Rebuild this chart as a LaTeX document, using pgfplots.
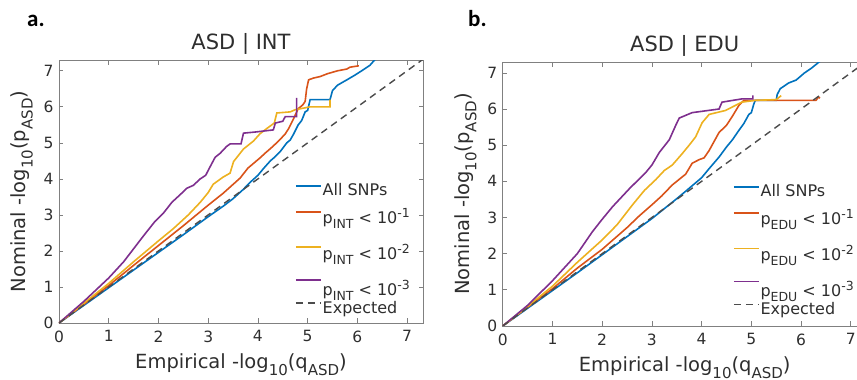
\documentclass[border=0pt]{standalone}
\usepackage{pgfplots}
\pgfplotsset{compat=1.18}
\usepackage{fontspec}
\setmainfont{DejaVu Sans}
\newfontfamily\lblfont{Carlito}
\definecolor{mblue}{rgb}{0,0.447,0.741}
\definecolor{morange}{rgb}{0.85,0.325,0.098}
\definecolor{myellow}{rgb}{0.929,0.694,0.125}
\definecolor{mpurple}{rgb}{0.494,0.184,0.556}
\definecolor{txt}{rgb}{0.18,0.18,0.18}
\definecolor{axgray}{rgb}{0.5,0.5,0.5}
\definecolor{expgray}{rgb}{0.3,0.3,0.3}
\newcommand{\lsub}[1]{\raisebox{-7pt}{\fontsize{15}{16}\selectfont #1}}
\newcommand{\gsub}[1]{\raisebox{-5.5pt}{\fontsize{12.5}{13}\selectfont #1}}
\newcommand{\gsup}[1]{\raisebox{6pt}{\fontsize{12.5}{13}\selectfont #1}}
\pgfplotsset{
  qq/.style={
    scale only axis, width=364pt,
    xmin=0, xmax=7.32, ymin=0, ymax=7.3,
    xtick={0,...,7}, ytick={0,...,7},
    axis line style={draw=axgray, line width=0.7pt},
    every tick/.style={draw=axgray, line width=0.7pt},
    major tick length=4.5pt,
    tick align=inside,
    /pgf/number format/assume math mode=true,
    tick label style={font=\fontsize{15.5}{17}\selectfont, text=txt},
    xticklabel style={yshift=-4pt},
    yticklabel style={xshift=-2pt},
    every axis x label/.style={at={(axis description cs:0.5,0)}, anchor=north, yshift=-30pt, inner sep=0pt, font=\fontsize{19.5}{21}\selectfont, text=txt},
    every axis y label/.style={at={(axis description cs:-0.102,0.5)}, rotate=90, anchor=center, font=\fontsize{19.5}{21}\selectfont, text=txt},
    title style={at={(axis description cs:0.5,1)}, anchor=base, yshift=4.5pt, font=\fontsize{21}{23}\selectfont, text=txt},
    xlabel={Empirical -log\lsub{10}(q\lsub{ASD})},
    ylabel={Nominal -log\lsub{10}(p\lsub{ASD})},
    legend cell align=left,
    legend style={draw=none, fill=none, inner sep=0pt, font=\fontsize{16}{18}\selectfont, text=txt,
      nodes={inner sep=0pt}, row sep=0pt,
      /tikz/every odd column/.style={column sep=1pt},
      /tikz/row 1/.style={nodes={text height=12pt, text depth=5pt}},
      /tikz/row 2/.style={nodes={text height=23pt, text depth=12pt}},
      /tikz/row 3/.style={nodes={text height=24pt, text depth=12pt}},
      /tikz/row 4/.style={nodes={text height=24pt, text depth=6pt}},
      /tikz/row 5/.style={nodes={text height=12pt, text depth=4pt}}},
    legend image code/.code={\draw[#1, line width=1.6pt] (0pt,5.8pt) -- (25pt,5.8pt);},
    every axis plot/.append style={line width=1.6pt},
  }
}
\begin{document}
\begin{tikzpicture}
\node[anchor=base west, inner sep=0pt, text=black] at (27pt,353pt) {\lblfont\bfseries\fontsize{23}{25}\selectfont a.};
\node[anchor=base west, inner sep=0pt, text=black] at (468pt,353pt) {\lblfont\bfseries\fontsize{23}{25}\selectfont b.};
\begin{axis}[qq, at={(59pt,57pt)}, anchor=south west, height=263pt,
  title={ASD | INT},
  legend style={at={(rel axis cs:0.648,0.533)}, anchor=north west}]
\addplot[mblue] coordinates {(0,0) (0.5,0.49) (1,0.98) (1.5,1.47) (2,1.96) (2.5,2.45) (3,2.95) (3.3,3.24) (3.5,3.45) (3.7,3.7) (3.84,3.9) (4.0,4.1) (4.12,4.3) (4.25,4.5) (4.35,4.62) (4.45,4.76) (4.58,5.0) (4.65,5.08) (4.72,5.25) (4.81,5.5) (4.88,5.62) (4.95,5.86) (5.0,5.9) (5.05,6.2) (5.45,6.2) (5.5,6.45) (5.6,6.6) (5.7,6.68) (5.79,6.75) (5.95,6.88) (6.12,7.03) (6.25,7.15) (6.36,7.32)};
\addplot[morange] coordinates {(0,0) (0.5,0.52) (1,1.04) (1.5,1.6) (2,2.15) (2.5,2.7) (3,3.27) (3.3,3.6) (3.64,4.02) (3.8,4.3) (4.04,4.58) (4.15,4.72) (4.3,4.9) (4.45,5.1) (4.55,5.25) (4.62,5.4) (4.71,5.65) (4.81,5.95) (4.9,6.05) (4.95,6.15) (4.98,6.5) (5.02,6.75) (5.12,6.8) (5.25,6.84) (5.4,6.92) (5.6,7.0) (5.79,7.05) (5.85,7.1) (6.03,7.14)};
\addplot[myellow] coordinates {(0,0) (0.5,0.55) (1,1.1) (1.5,1.7) (2,2.28) (2.3,2.62) (2.6,3.0) (2.84,3.35) (3.0,3.62) (3.1,3.85) (3.3,4.05) (3.44,4.16) (3.51,4.48) (3.71,4.83) (3.91,5.05) (4.04,5.25) (4.18,5.4) (4.33,5.55) (4.38,5.83) (4.65,5.86) (4.75,5.92) (5.05,6.0) (5.45,6.0) (5.45,6.2)};
\addplot[mpurple] coordinates {(0,0) (0.5,0.6) (1,1.25) (1.3,1.7) (1.7,2.42) (1.93,2.82) (2.1,3.05) (2.27,3.35) (2.45,3.58) (2.57,3.74) (2.7,3.82) (2.84,4.0) (2.95,4.1) (3.04,4.34) (3.14,4.6) (3.24,4.71) (3.37,4.9) (3.44,4.97) (3.66,4.97) (3.71,5.27) (3.94,5.3) (4.31,5.36) (4.35,5.55) (4.5,5.6) (4.55,5.73) (4.78,5.73) (4.78,6.25)};
\addplot[expgray, line width=1.4pt, dash pattern=on 7pt off 5pt] coordinates {(0,0) (7.4,7.4)};
\legend{All SNPs, p\gsub{INT} < 10\gsup{-1}, p\gsub{INT} < 10\gsup{-2}, p\gsub{INT} < 10\gsup{-3}, Expected}
\end{axis}
\begin{axis}[qq, at={(502.7pt,54pt)}, anchor=south west, height=264pt,
  title={ASD | EDU},
  legend style={at={(rel axis cs:0.632,0.537)}, anchor=north west}]
\addplot[mblue] coordinates {(0,0) (0.5,0.49) (1,0.98) (1.5,1.47) (2,1.97) (2.5,2.47) (3,2.97) (3.5,3.52) (3.7,3.75) (4.0,4.1) (4.15,4.35) (4.35,4.67) (4.5,4.95) (4.62,5.15) (4.75,5.41) (4.85,5.6) (4.95,5.85) (5.0,5.9) (5.05,6.14) (5.08,6.24) (5.5,6.24) (5.52,6.4) (5.58,6.56) (5.75,6.72) (5.9,6.8) (6.07,7.0) (6.2,7.12) (6.38,7.32)};
\addplot[morange] coordinates {(0,0) (0.5,0.52) (1,1.03) (1.5,1.6) (2,2.12) (2.5,2.72) (2.75,3.05) (3,3.35) (3.2,3.6) (3.41,3.9) (3.68,4.2) (3.81,4.5) (3.95,4.6) (4.05,4.65) (4.15,4.85) (4.35,5.35) (4.5,5.55) (4.61,5.78) (4.75,6.1) (4.85,6.24) (6.3,6.24) (6.35,6.33) (6.38,6.3)};
\addplot[myellow] coordinates {(0,0) (0.5,0.54) (1,1.1) (1.5,1.76) (2,2.38) (2.3,2.8) (2.61,3.35) (2.85,3.75) (3.08,4.05) (3.25,4.3) (3.41,4.45) (3.6,4.75) (3.75,5.0) (3.88,5.23) (4.01,5.62) (4.15,5.85) (4.48,5.96) (4.68,6.1) (4.81,6.19) (5.08,6.24) (5.5,6.26) (5.6,6.37)};
\addplot[mpurple] coordinates {(0,0) (0.5,0.57) (1,1.25) (1.5,2.0) (1.8,2.6) (2.0,2.95) (2.21,3.3) (2.55,3.8) (2.88,4.25) (3.0,4.45) (3.15,4.8) (3.35,5.15) (3.48,5.55) (3.55,5.75) (3.81,5.9) (4.35,6.0) (4.41,6.19) (4.81,6.28) (5.03,6.28) (5.03,6.38)};
\addplot[expgray, line width=1.4pt, dash pattern=on 7pt off 5pt] coordinates {(0,0) (7.4,7.4)};
\legend{All SNPs, p\gsub{EDU} < 10\gsup{-1}, p\gsub{EDU} < 10\gsup{-2}, p\gsub{EDU} < 10\gsup{-3}, Expected}
\end{axis}
\pgfresetboundingbox
\path[use as bounding box] (0,0) rectangle (857pt,380pt);
\end{tikzpicture}
\end{document}
